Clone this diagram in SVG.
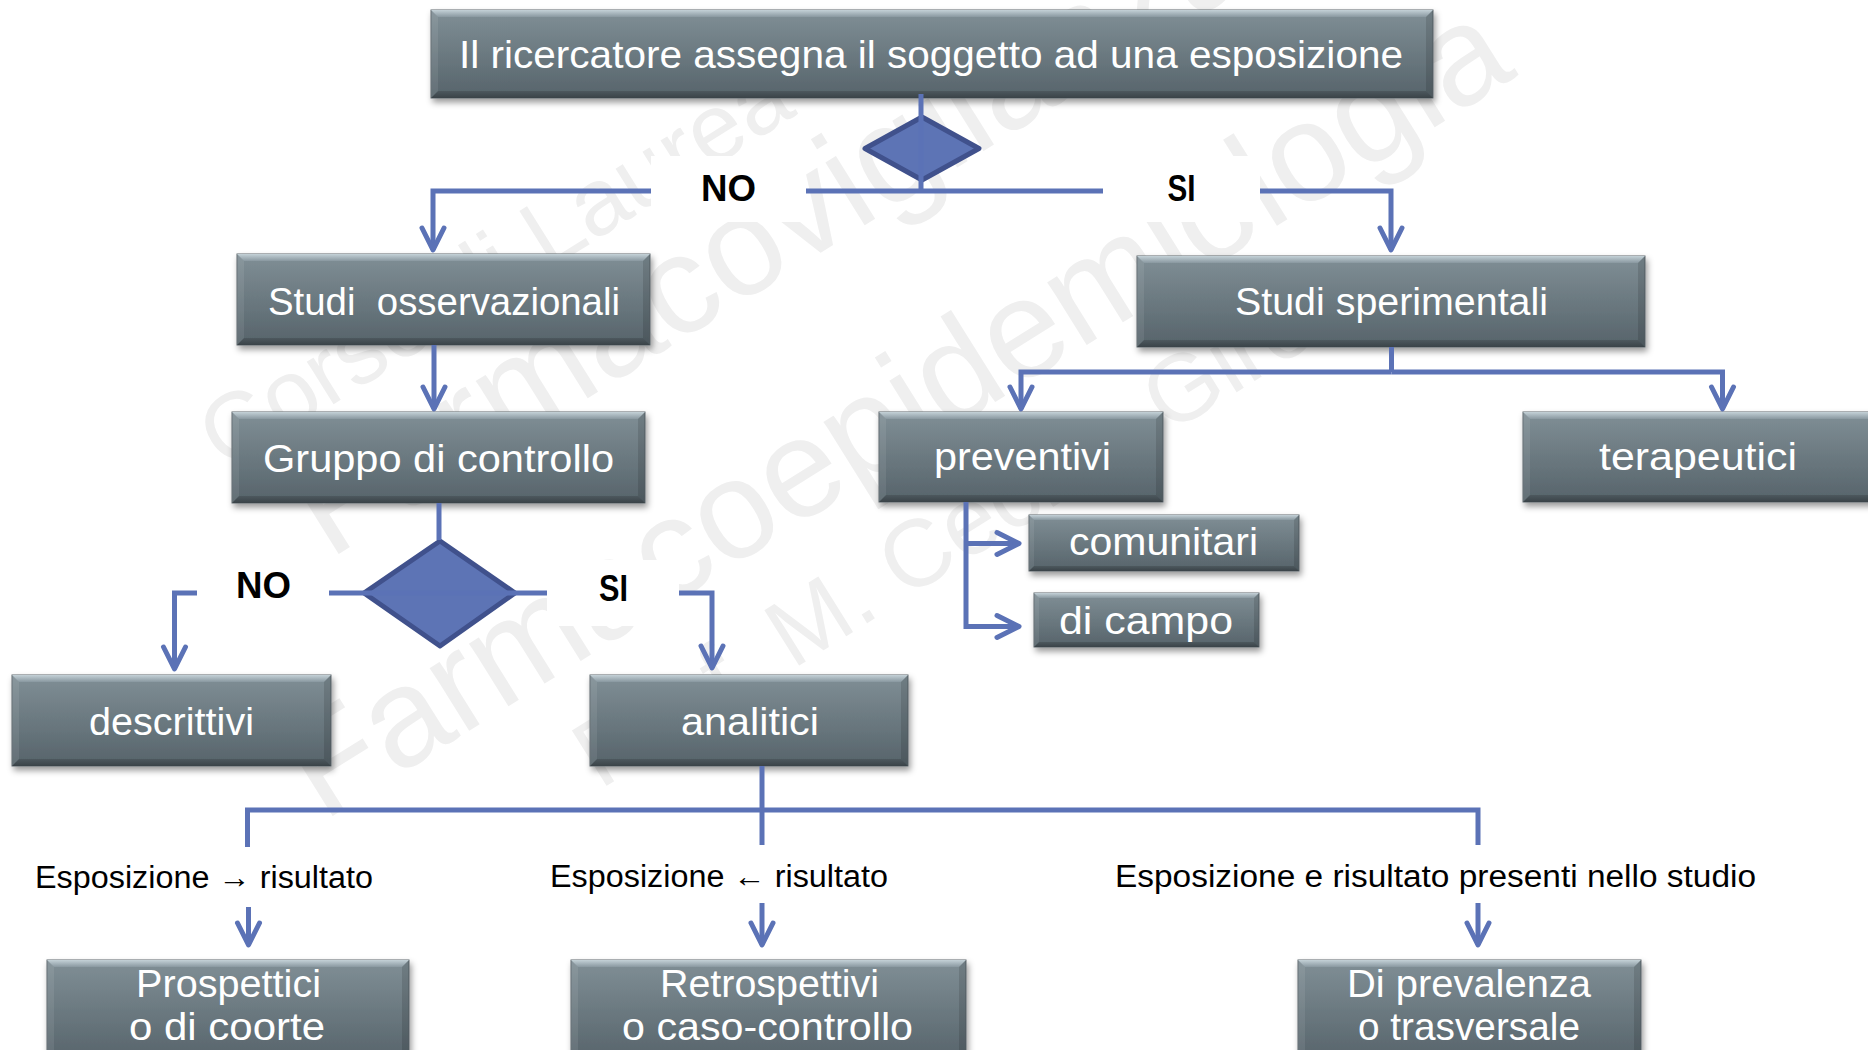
<svg xmlns="http://www.w3.org/2000/svg" width="1868" height="1050" viewBox="0 0 1868 1050">
  <defs>
    <linearGradient id="boxFill" x1="0" y1="0" x2="0" y2="1">
      <stop offset="0" stop-color="#808f96"/>
      <stop offset="1" stop-color="#56636a"/>
    </linearGradient>
    <linearGradient id="bevTop" x1="0" y1="0" x2="0" y2="1">
      <stop offset="0" stop-color="#c4d1d7"/>
      <stop offset="1" stop-color="#8998a0"/>
    </linearGradient>
    <linearGradient id="bevBot" x1="0" y1="0" x2="0" y2="1">
      <stop offset="0" stop-color="#4d585e"/>
      <stop offset="1" stop-color="#3a4348"/>
    </linearGradient>
    <filter id="shadow" x="-5%" y="-20%" width="115%" height="150%">
      <feDropShadow dx="2" dy="4" stdDeviation="3" flood-color="#000" flood-opacity="0.4"/>
    </filter>
    <marker id="arrow" markerUnits="userSpaceOnUse" viewBox="-30 -16 34 32" markerWidth="34" markerHeight="32" refX="0" refY="0" orient="auto" overflow="visible">
      <path d="M-22,-11 L0,0 L-22,11" fill="none" stroke="#5b72b6" stroke-width="5" stroke-linejoin="round" stroke-linecap="round"/>
    </marker>
    <style>
      .wm { fill: #efefef; font-family: 'Liberation Sans', Arial, sans-serif; }
      .bx { fill: url(#boxFill); stroke: #5c676d; stroke-width: 1; filter: url(#shadow); }
      .bt { fill: url(#bevTop); }
      .bb { fill: url(#bevBot); }
      .bl { fill: #ffffff; fill-opacity: 0.08; }
      .br { fill: #000000; fill-opacity: 0.12; }
      .nt { fill: #ffffff; font-family: 'Liberation Sans', Arial, sans-serif; font-size: 39px; text-anchor: middle; }
      .dm { fill: #5d74b5; stroke: #40518c; stroke-width: 5; stroke-linejoin: round; }
      .cn { fill: none; stroke: #5b72b6; stroke-width: 5; stroke-linejoin: miter; stroke-linecap: butt; }
      .ar { marker-end: url(#arrow); }
      .lb { fill: #ffffff; }
      .yn { fill: #000000; font-family: 'Liberation Sans', Arial, sans-serif; font-size: 36px; font-weight: bold; text-anchor: middle; }
      .ex { fill: #000000; font-family: 'Liberation Sans', Arial, sans-serif; font-size: 31px; }
    </style>
  </defs>

  <rect width="1868" height="1050" fill="#ffffff"/>

  <!-- background watermark -->
  <g id="watermark" class="wm">
    <text transform="translate(225,472) rotate(-32)" font-size="95">Corso di Laurea in</text>
    <text transform="translate(329,560) rotate(-32)" font-size="140">Farmacovigilanza</text>
    <text transform="translate(323,822) rotate(-32)" font-size="140" textLength="1410" lengthAdjust="spacingAndGlyphs">Farmacoepidemiologia</text>
    <text transform="translate(600,790) rotate(-32)" font-size="95">Prof. M. Cecilia Giron</text>
  </g>

  <!-- nodes -->
  <g id="nodes">
    <g id="n-assegna">
      <rect class="bx" x="431" y="10" width="1002" height="88"/>
      <polygon class="bt" points="431,10 1433,10 1426,17 438,17"/>
      <polygon class="bb" points="431,98 1433,98 1426,91 438,91"/>
      <polygon class="bl" points="431,10 438,17 438,91 431,98"/>
      <polygon class="br" points="1433,10 1426,17 1426,91 1433,98"/>
      <text class="nt" x="931" y="68" font-size="40" textLength="944" lengthAdjust="spacingAndGlyphs">Il ricercatore assegna il soggetto ad una esposizione</text>
    </g>

    <g id="d-esposizione">
      <polygon class="dm" points="922,117 979,148.5 922,180 865,148.5"/>
    </g>

    <g id="n-osservazionali">
      <rect class="bx" x="237" y="254" width="413" height="91"/>
      <polygon class="bt" points="237,254 650,254 643,261 244,261"/>
      <polygon class="bb" points="237,345 650,345 643,338 244,338"/>
      <polygon class="bl" points="237,254 244,261 244,338 237,345"/>
      <polygon class="br" points="650,254 643,261 643,338 650,345"/>
      <text class="nt" x="444" y="315" textLength="352" lengthAdjust="spacingAndGlyphs" xml:space="preserve">Studi  osservazionali</text>
    </g>

    <g id="n-sperimentali">
      <rect class="bx" x="1137" y="256" width="508" height="91"/>
      <polygon class="bt" points="1137,256 1645,256 1638,263 1144,263"/>
      <polygon class="bb" points="1137,347 1645,347 1638,340 1144,340"/>
      <polygon class="bl" points="1137,256 1144,263 1144,340 1137,347"/>
      <polygon class="br" points="1645,256 1638,263 1638,340 1645,347"/>
      <text class="nt" x="1391.5" y="315" textLength="313" lengthAdjust="spacingAndGlyphs">Studi sperimentali</text>
    </g>

    <g id="n-controllo">
      <rect class="bx" x="232" y="412" width="413" height="91"/>
      <polygon class="bt" points="232,412 645,412 638,419 239,419"/>
      <polygon class="bb" points="232,503 645,503 638,496 239,496"/>
      <polygon class="bl" points="232,412 239,419 239,496 232,503"/>
      <polygon class="br" points="645,412 638,419 638,496 645,503"/>
      <text class="nt" x="438.5" y="471.5" textLength="351" lengthAdjust="spacingAndGlyphs">Gruppo di controllo</text>
    </g>

    <g id="n-preventivi">
      <rect class="bx" x="879" y="412" width="284" height="90"/>
      <polygon class="bt" points="879,412 1163,412 1156,419 886,419"/>
      <polygon class="bb" points="879,502 1163,502 1156,495 886,495"/>
      <polygon class="bl" points="879,412 886,419 886,495 879,502"/>
      <polygon class="br" points="1163,412 1156,419 1156,495 1163,502"/>
      <text class="nt" x="1022.5" y="470" textLength="177" lengthAdjust="spacingAndGlyphs">preventivi</text>
    </g>

    <g id="n-terapeutici">
      <rect class="bx" x="1523" y="412" width="352" height="90"/>
      <polygon class="bt" points="1523,412 1875,412 1868,419 1530,419"/>
      <polygon class="bb" points="1523,502 1875,502 1868,495 1530,495"/>
      <polygon class="bl" points="1523,412 1530,419 1530,495 1523,502"/>
      <text class="nt" x="1698" y="470" textLength="198" lengthAdjust="spacingAndGlyphs">terapeutici</text>
    </g>

    <g id="n-comunitari">
      <rect class="bx" x="1029" y="515" width="270" height="56"/>
      <polygon class="bt" points="1029,515 1299,515 1294,520 1034,520"/>
      <polygon class="bb" points="1029,571 1299,571 1294,566 1034,566"/>
      <polygon class="bl" points="1029,515 1034,520 1034,566 1029,571"/>
      <polygon class="br" points="1299,515 1294,520 1294,566 1299,571"/>
      <text class="nt" x="1163.5" y="555" textLength="189" lengthAdjust="spacingAndGlyphs">comunitari</text>
    </g>

    <g id="n-campo">
      <rect class="bx" x="1034" y="593" width="225" height="54"/>
      <polygon class="bt" points="1034,593 1259,593 1254,598 1039,598"/>
      <polygon class="bb" points="1034,647 1259,647 1254,642 1039,642"/>
      <polygon class="bl" points="1034,593 1039,598 1039,642 1034,647"/>
      <polygon class="br" points="1259,593 1254,598 1254,642 1259,647"/>
      <text class="nt" x="1146" y="634" textLength="174" lengthAdjust="spacingAndGlyphs">di campo</text>
    </g>

    <g id="d-controllo">
      <polygon class="dm" points="440,541 515,593 440,646 364,593"/>
    </g>

    <g id="n-descrittivi">
      <rect class="bx" x="12" y="675" width="319" height="91"/>
      <polygon class="bt" points="12,675 331,675 324,682 19,682"/>
      <polygon class="bb" points="12,766 331,766 324,759 19,759"/>
      <polygon class="bl" points="12,675 19,682 19,759 12,766"/>
      <polygon class="br" points="331,675 324,682 324,759 331,766"/>
      <text class="nt" x="171.5" y="735" textLength="165" lengthAdjust="spacingAndGlyphs">descrittivi</text>
    </g>

    <g id="n-analitici">
      <rect class="bx" x="590" y="675" width="318" height="91"/>
      <polygon class="bt" points="590,675 908,675 901,682 597,682"/>
      <polygon class="bb" points="590,766 908,766 901,759 597,759"/>
      <polygon class="bl" points="590,675 597,682 597,759 590,766"/>
      <polygon class="br" points="908,675 901,682 901,759 908,766"/>
      <text class="nt" x="750" y="735" textLength="138" lengthAdjust="spacingAndGlyphs">analitici</text>
    </g>

    <g id="n-prospettici">
      <rect class="bx" x="47" y="960" width="362" height="102"/>
      <polygon class="bt" points="47,960 409,960 402,967 54,967"/>
      <polygon class="bl" points="47,960 54,967 54,1062 47,1062"/>
      <polygon class="br" points="409,960 402,967 402,1062 409,1062"/>
      <text class="nt" x="228.5" y="997" textLength="185" lengthAdjust="spacingAndGlyphs">Prospettici</text>
      <text class="nt" x="227" y="1040" textLength="196" lengthAdjust="spacingAndGlyphs">o di coorte</text>
    </g>

    <g id="n-retrospettivi">
      <rect class="bx" x="571" y="960" width="395" height="102"/>
      <polygon class="bt" points="571,960 966,960 959,967 578,967"/>
      <polygon class="bl" points="571,960 578,967 578,1062 571,1062"/>
      <polygon class="br" points="966,960 959,967 959,1062 966,1062"/>
      <text class="nt" x="769.5" y="997" textLength="219" lengthAdjust="spacingAndGlyphs">Retrospettivi</text>
      <text class="nt" x="767.5" y="1040" textLength="291" lengthAdjust="spacingAndGlyphs">o caso-controllo</text>
    </g>

    <g id="n-prevalenza">
      <rect class="bx" x="1298" y="960" width="343" height="102"/>
      <polygon class="bt" points="1298,960 1641,960 1634,967 1305,967"/>
      <polygon class="bl" points="1298,960 1305,967 1305,1062 1298,1062"/>
      <polygon class="br" points="1641,960 1634,967 1634,1062 1641,1062"/>
      <text class="nt" x="1469" y="997" textLength="244" lengthAdjust="spacingAndGlyphs">Di prevalenza</text>
      <text class="nt" x="1469" y="1040" textLength="222" lengthAdjust="spacingAndGlyphs">o trasversale</text>
    </g>
  </g>

  <!-- connectors -->
  <g id="connectors">
    <path class="cn" d="M921,94 V191"/>
    <path class="cn ar" d="M921,191 H433 V250"/>
    <path class="cn ar" d="M921,191 H1391 V250"/>
    <path class="cn ar" d="M434,345 V409"/>
    <path class="cn" d="M439,503 V540"/>
    <path class="cn ar" d="M440,593 H174.5 V669"/>
    <path class="cn ar" d="M440,593 H712 V668"/>
    <path class="cn" d="M1391.5,347 V372"/>
    <path class="cn ar" d="M1391.5,372 H1021 V409"/>
    <path class="cn ar" d="M1391.5,372 H1722.5 V409"/>
    <path class="cn ar" d="M966,502 V626.5 H1019"/>
    <path class="cn ar" d="M966,543.5 H1019"/>
    <path class="cn" d="M762,766 V845"/>
    <path class="cn" d="M762,810 H247.5 V847"/>
    <path class="cn" d="M762,810 H1478 V845"/>
    <path class="cn ar" d="M248.5,907 V945"/>
    <path class="cn ar" d="M762,903 V945"/>
    <path class="cn ar" d="M1478,903 V945"/>
  </g>

  <!-- decision labels on white plates that interrupt the lines -->
  <g id="labels">
    <rect class="lb" x="651" y="156" width="155" height="66"/>
    <rect class="lb" x="1103" y="156" width="157" height="66"/>
    <rect class="lb" x="197" y="560" width="132" height="66"/>
    <rect class="lb" x="547" y="560" width="132" height="66"/>
    <text class="yn" x="728.5" y="201" textLength="55" lengthAdjust="spacingAndGlyphs">NO</text>
    <text class="yn" x="1181.5" y="201" textLength="28" lengthAdjust="spacingAndGlyphs">SI</text>
    <text class="yn" x="263.5" y="598" textLength="55" lengthAdjust="spacingAndGlyphs">NO</text>
    <text class="yn" x="613.5" y="601" textLength="29" lengthAdjust="spacingAndGlyphs">SI</text>
    <text class="ex" x="35" y="888" textLength="338" lengthAdjust="spacingAndGlyphs">Esposizione → risultato</text>
    <text class="ex" x="550" y="887" textLength="338" lengthAdjust="spacingAndGlyphs">Esposizione ← risultato</text>
    <text class="ex" x="1115" y="887" textLength="641" lengthAdjust="spacingAndGlyphs">Esposizione e risultato presenti nello studio</text>
  </g>
</svg>
